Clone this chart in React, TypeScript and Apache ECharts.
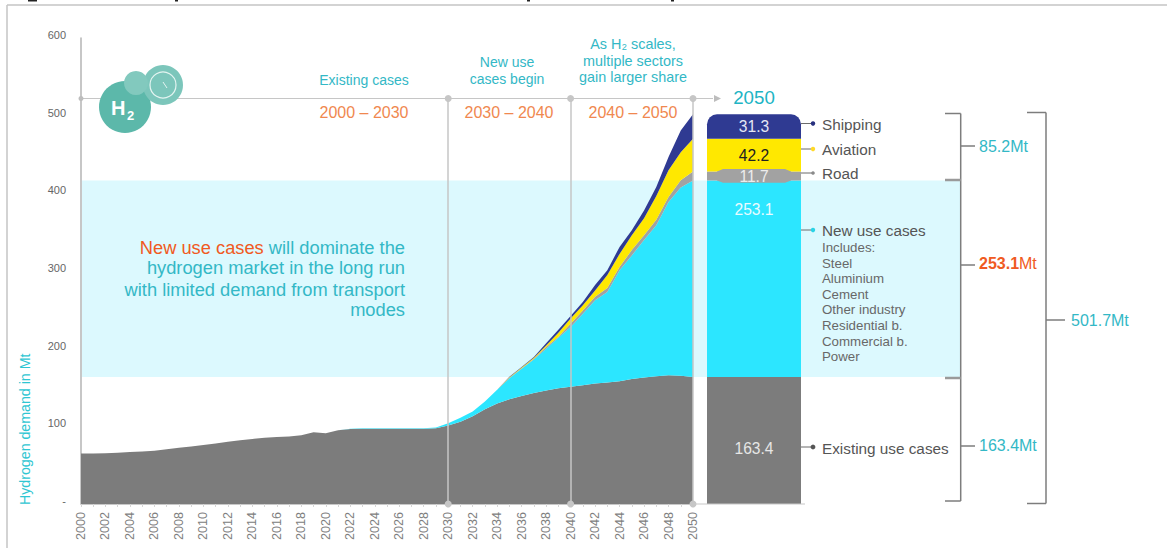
import React, { useEffect, useRef } from "react";
import * as echarts from "echarts";

const FONT = '"Liberation Sans", Arial, sans-serif';

const years = Array.from({ length: 51 }, (_, i) => String(2000 + i));

// Hydrogen demand by segment, Mt per year, 2000 to 2050
const existingUse = [
  65, 65, 65.5, 66, 67, 67.5, 68.7, 70.5, 72.5, 74, 76, 78, 80, 82, 83.7, 85.4, 86.3, 87, 88.4, 92.3, 91,
  95, 96.6, 97, 97, 97, 97, 97, 97, 97.5, 101, 106, 113, 122, 129.5, 135, 139, 143, 146, 149, 151,
  153, 155, 156.5, 158, 161, 163, 164.5, 165.7, 165, 163.4,
];
const newUse = [
  0, 0, 0, 0, 0, 0, 0, 0, 0, 0, 0, 0, 0, 0, 0, 0, 0, 0, 0, 0, 0,
  0, 0.3, 0.4, 0.4, 0.4, 0.4, 0.4, 0.5, 1, 3, 5, 6, 10, 17.5, 27, 35, 43, 54, 65, 77,
  92, 107.5, 116.5, 143, 159, 177, 194.5, 223, 242.6, 253.1,
];
const road = [
  0, 0, 0, 0, 0, 0, 0, 0, 0, 0, 0, 0, 0, 0, 0, 0, 0, 0, 0, 0, 0,
  0, 0, 0, 0, 0, 0, 0, 0, 0, 0, 0, 0, 0, 0, 0.5, 0.7, 1, 2, 1.5, 4,
  4, 4.5, 5, 4, 7, 6, 7, 6.5, 9.4, 11.7,
];
const aviation = [
  0, 0, 0, 0, 0, 0, 0, 0, 0, 0, 0, 0, 0, 0, 0, 0, 0, 0, 0, 0, 0,
  0, 0, 0, 0, 0, 0, 0, 0, 0, 0, 0, 0, 0, 0, 0.8, 1, 1.2, 2, 5, 7,
  7, 8, 17, 17, 19, 22, 30.6, 34.5, 36, 42.2,
];
const shipping = [
  0, 0, 0, 0, 0, 0, 0, 0, 0, 0, 0, 0, 0, 0, 0, 0, 0, 0, 0, 0, 0,
  0, 0, 0, 0, 0, 0, 0, 0, 0, 0, 0, 0, 0, 0, 0.5, 0.8, 1, 3, 4, 3,
  4, 7, 6, 9, 6.6, 10, 11.4, 17, 28, 31.3,
];

// 2050 breakdown shown in the stacked column
const total2050 = { existing: 163.4, newUse: 253.1, road: 11.7, aviation: 42.2, shipping: 31.3 };
const phaseYears = ["2030", "2040", "2050"];
const timelineValue = 522;
const includesList = ["Includes:", "Steel", "Aluminium", "Cement", "Other industry", "Residential b.", "Commercial b.", "Power"];

const COLORS = {
  existing: "#7c7c7c",
  newUse: "#2ce6ff",
  road: "#a2a2a2",
  aviation: "#ffe800",
  shipping: "#2f3a92",
  band: "#dcf9fe",
  teal: "#33b8c6",
  orange: "#f0884f",
  strong: "#f05a22",
  guide: "#c6c6c6",
  bracket: "#7d7d7d",
  ink: "#555555",
  icon: "#5cb8aa",
  iconLight: "#7cc6bb",
};

const GRID_TOP = 38;
const GRID_HEIGHT = 466;

const txt = (x: number, y: number, text: string, fontSize: number, fill: string, textAlign = "left", extra: any = {}) => ({
  type: "text",
  x,
  y,
  silent: true,
  style: { text, fontSize, fill, fontFamily: FONT, textAlign, textVerticalAlign: "middle", ...extra },
});

const seg = (x1: number, y1: number, x2: number, y2: number, stroke = COLORS.bracket, lineWidth = 1.5) => ({
  type: "line",
  silent: true,
  shape: { x1, y1, x2, y2 },
  style: { stroke, lineWidth },
});

const dot = (cx: number, cy: number, r: number, fill: string) => ({
  type: "circle",
  silent: true,
  shape: { cx, cy, r },
  style: { fill },
});

const areaSeries = (name: string, data: number[], color: string, extra: any = {}) => ({
  name,
  type: "line",
  xAxisIndex: 0,
  yAxisIndex: 0,
  stack: "demand",
  data,
  z: 3,
  showSymbol: false,
  silent: true,
  lineStyle: { width: 0 },
  areaStyle: { color, opacity: 1 },
  ...extra,
});

const columnSeries = (name: string, value: number, color: string, label: any, extra: any = {}) => ({
  name,
  type: "bar",
  xAxisIndex: 1,
  yAxisIndex: 1,
  stack: "column",
  barWidth: "100%",
  z: 3,
  silent: true,
  data: [value],
  itemStyle: { color },
  label: {
    show: !!label,
    position: "inside",
    fontFamily: FONT,
    fontSize: 15.6,
    formatter: (p: any) => String(p.value),
    ...label,
  },
  ...extra,
});

function buildOption() {
  const connector = (y: number, color: string, r = 2.2) => [seg(801, y, 813, y, "#6b6b6b", 1), dot(813, y, r, color)];

  const elements: any[] = [
    // page frame and the remains of a heading cut off at the top edge
    seg(7, 5, 1167, 5, "#c4c4c4", 1.5),
    seg(7, 5, 7, 548, "#c4c4c4", 1.5),
    { type: "rect", silent: true, shape: { x: 28, y: 0, width: 9, height: 1.5 }, style: { fill: "#222" } },
    { type: "rect", silent: true, shape: { x: 175, y: 0, width: 3, height: 1.5 }, style: { fill: "#222" } },
    { type: "rect", silent: true, shape: { x: 527, y: 0, width: 3, height: 1.5 }, style: { fill: "#222" } },
    { type: "rect", silent: true, shape: { x: 671, y: 0, width: 3, height: 1.5 }, style: { fill: "#222" } },

    // timeline
    seg(81, 98.5, 713, 98.5, COLORS.guide, 1.2),
    dot(81, 98.5, 2.5, "#bdbdbd"),
    { type: "polygon", silent: true, shape: { points: [[714, 95], [721, 98.5], [714, 102]] }, style: { fill: "#bdbdbd" } },
    seg(693, 504, 805, 504, "#c8c8c8", 1.2),

    // hydrogen badge
    dot(125, 107, 26, COLORS.icon),
    dot(163, 85, 20, COLORS.iconLight),
    dot(136, 83, 12, "#82c9be"),
    { type: "circle", silent: true, shape: { cx: 163, cy: 85, r: 13 }, style: { fill: "none", stroke: "#e4f4f1", lineWidth: 1.2 } },
    seg(163, 82, 167, 88, "#e4f4f1", 1),
    txt(111, 108, "H", 20, "#ffffff", "left", { fontWeight: "bold" }),
    txt(127, 115, "2", 13, "#ffffff", "left", { fontWeight: "bold" }),

    // phase headings
    txt(364, 80, "Existing cases", 14, COLORS.teal, "center"),
    txt(507, 62, "New use", 14, COLORS.teal, "center"),
    txt(507, 78.5, "cases begin", 14, COLORS.teal, "center"),
    txt(633, 44, "As H\u2082 scales,", 14.4, COLORS.teal, "center"),
    txt(633, 60.5, "multiple sectors", 14.4, COLORS.teal, "center"),
    txt(633, 77, "gain larger share", 14.4, COLORS.teal, "center"),
    txt(364, 112, "2000 \u2013 2030", 16, COLORS.orange, "center"),
    txt(509, 112, "2030 \u2013 2040", 16, COLORS.orange, "center"),
    txt(633, 112, "2040 \u2013 2050", 16, COLORS.orange, "center"),
    txt(754, 97, "2050", 18.7, "#20b4c4", "center"),

    // commentary on the band
    {
      type: "text",
      x: 405,
      y: 247,
      silent: true,
      style: {
        text: "{a|New use cases}{b| will dominate the}",
        textAlign: "right",
        textVerticalAlign: "middle",
        rich: {
          a: { fontFamily: FONT, fontSize: 18.3, fill: COLORS.strong },
          b: { fontFamily: FONT, fontSize: 18.3, fill: COLORS.teal },
        },
      },
    },
    txt(405, 267.5, "hydrogen market in the long run", 18.3, COLORS.teal, "right"),
    txt(405, 289, "with limited demand from transport", 18.3, COLORS.teal, "right"),
    txt(405, 309.5, "modes", 18.3, COLORS.teal, "right"),

    // axis title, reading bottom to top
    { ...txt(25, 505, "Hydrogen demand in Mt", 14.2, "#2fc6d2"), rotation: Math.PI / 2 },

    // sector call-outs
    ...connector(123.5, "#27307f"),
    ...connector(149, "#ffd92a"),
    ...connector(173, "#8a8a8a", 1.8),
    ...connector(230, "#2bd3e6"),
    ...connector(447, "#555555", 2.4),
    txt(822, 124, "Shipping", 15.3, COLORS.ink),
    txt(822, 149, "Aviation", 15.3, COLORS.ink),
    txt(822, 173, "Road", 15.3, COLORS.ink),
    txt(822, 230, "New use cases", 15.3, COLORS.ink),
    ...includesList.map((t, i) => txt(822, 247.5 + i * 15.6, t, 13.3, "#686868")),
    txt(822, 448, "Existing use cases", 15.3, COLORS.ink),

    // inner bracket
    seg(960.7, 113.5, 960.7, 501),
    seg(945, 113.5, 960.7, 113.5),
    seg(945, 501, 960.7, 501),
    seg(945, 180, 960.7, 180, "#9a9a9a", 2.5),
    seg(945, 378, 960.7, 378, "#9a9a9a", 2.5),
    seg(960.7, 146, 975, 146),
    seg(960.7, 265, 975, 265),
    seg(960.7, 446, 975, 446),
    txt(979, 146, "85.2Mt", 16, COLORS.teal),
    {
      type: "text",
      x: 979,
      y: 263.5,
      silent: true,
      style: {
        text: "{a|253.1}{b|Mt}",
        textVerticalAlign: "middle",
        rich: {
          a: { fontFamily: FONT, fontSize: 16, fontWeight: "bold", fill: COLORS.strong },
          b: { fontFamily: FONT, fontSize: 16, fill: COLORS.strong },
        },
      },
    },
    txt(979, 445, "163.4Mt", 16, COLORS.teal),

    // outer bracket
    seg(1046, 112.5, 1046, 503.5),
    seg(1027, 112.5, 1046, 112.5),
    seg(1027, 503.5, 1046, 503.5),
    seg(1046, 320, 1065, 320),
    txt(1071, 320, "501.7Mt", 16, COLORS.teal),
  ];

  // annotations sit above the shaded band and the areas
  const graphic = elements.map((el) => ({ ...el, z: 20 }));

  const hiddenY = (gridIndex: number) => ({
    type: "value",
    gridIndex,
    min: 0,
    max: 600,
    show: false,
  });

  return {
    animation: false,
    backgroundColor: "#ffffff",
    grid: [
      { left: 81, width: 612, top: GRID_TOP, height: GRID_HEIGHT },
      { left: 707, width: 94, top: GRID_TOP, height: GRID_HEIGHT },
      { left: 82, width: 878, top: GRID_TOP, height: GRID_HEIGHT },
    ],
    xAxis: [
      {
        type: "category",
        gridIndex: 0,
        data: years,
        boundaryGap: false,
        axisLine: { show: true, lineStyle: { color: "#c8c8c8", width: 1.2 } },
        axisTick: { show: true, interval: 0, length: 3, lineStyle: { color: "#d6d6d6" } },
        axisLabel: { interval: 1, rotate: 90, margin: 8, fontSize: 12.6, color: "#808080", fontFamily: FONT },
      },
      { type: "category", gridIndex: 1, data: ["2050"], show: false },
      { type: "value", gridIndex: 2, min: 0, max: 1, show: false },
    ],
    yAxis: [
      {
        type: "value",
        gridIndex: 0,
        min: 0,
        max: 600,
        interval: 100,
        splitLine: { show: false },
        axisTick: { show: false },
        axisLine: { show: true, lineStyle: { color: "#b4b4b4", width: 1.5 } },
        axisLabel: {
          margin: 15,
          fontSize: 11,
          color: "#666666",
          fontFamily: FONT,
          verticalAlign: "bottom",
          lineHeight: 6,
          formatter: (v: number) => (v === 0 ? "-" : String(v)),
        },
      },
      hiddenY(1),
      hiddenY(2),
    ],
    graphic,
    series: [
      // band marking the range of the new use cases in 2050
      {
        name: "New use range",
        type: "line",
        xAxisIndex: 2,
        yAxisIndex: 2,
        z: 0,
        silent: true,
        showSymbol: false,
        lineStyle: { width: 0 },
        data: [
          [0, total2050.existing],
          [1, total2050.existing + total2050.newUse],
        ],
        markArea: {
          silent: true,
          itemStyle: { color: COLORS.band },
          data: [
            [
              { xAxis: 0, yAxis: total2050.existing },
              { xAxis: 1, yAxis: total2050.existing + total2050.newUse },
            ],
          ],
        },
      },
      areaSeries("Existing use cases", existingUse, COLORS.existing),
      areaSeries("New use cases", newUse, COLORS.newUse),
      areaSeries("Road", road, COLORS.road),
      areaSeries("Aviation", aviation, COLORS.aviation),
      areaSeries("Shipping", shipping, COLORS.shipping, {
        markLine: {
          silent: true,
          symbol: ["circle", "circle"],
          symbolSize: 7,
          label: { show: false },
          lineStyle: { color: COLORS.guide, width: 1.5, type: "solid" },
          itemStyle: { color: "#bdbdbd" },
          data: phaseYears.map((y) => [{ coord: [y, timelineValue] }, { coord: [y, 0] }]),
        },
      }),
      columnSeries("Existing 2050", total2050.existing, COLORS.existing, { color: "#e6e6e6", offset: [0, 8] }),
      columnSeries("New use 2050", total2050.newUse, COLORS.newUse, { color: "#e9fbff", offset: [0, -69] }),
      columnSeries("Road 2050", total2050.road, COLORS.road, null),
      columnSeries("Aviation 2050", total2050.aviation, COLORS.aviation, { color: "#222222" }),
      columnSeries("Shipping 2050", total2050.shipping, COLORS.shipping, { color: "#e4e6f4" }, {
        itemStyle: { color: COLORS.shipping, borderRadius: [10, 10, 0, 0] },
      }),
      // plate carrying the road figure, wider than the segment it labels
      {
        name: "Road plate",
        type: "custom",
        xAxisIndex: 1,
        yAxisIndex: 1,
        z: 4,
        silent: true,
        data: [[0, total2050.existing + total2050.newUse - 3, total2050.existing + total2050.newUse + total2050.road + 3, total2050.road]],
        renderItem: (_: any, api: any) => {
          const c = api.coord([0, api.value(1)]);
          const t = api.coord([0, api.value(2)]);
          const x = c[0];
          const base = api.coord([0, total2050.existing + total2050.newUse])[1];
          const top = api.coord([0, total2050.existing + total2050.newUse + total2050.road])[1];
          return {
            type: "group",
            children: [
              {
                type: "polygon",
                shape: {
                  points: [
                    [x - 37, top],
                    [x - 31, t[1]],
                    [x + 31, t[1]],
                    [x + 37, top],
                    [x + 37, base],
                    [x + 31, c[1]],
                    [x - 31, c[1]],
                    [x - 37, base],
                  ],
                },
                style: { fill: COLORS.road },
              },
              {
                type: "text",
                x,
                y: (base + top) / 2 + 1,
                style: {
                  text: String(api.value(3)),
                  fill: "#ececec",
                  fontFamily: FONT,
                  fontSize: 15.6,
                  textAlign: "center",
                  textVerticalAlign: "middle",
                },
              },
            ],
          };
        },
      },
    ],
  };
}

export default function App() {
  const ref = useRef<HTMLDivElement>(null);
  useEffect(() => {
    const chart = echarts.init(ref.current!, undefined, { renderer: "svg" });
    chart.setOption(buildOption() as any);
    return () => chart.dispose();
  }, []);
  return <div ref={ref} style={{ position: "absolute", left: 0, top: 0, width: 1167, height: 548 }} />;
}
